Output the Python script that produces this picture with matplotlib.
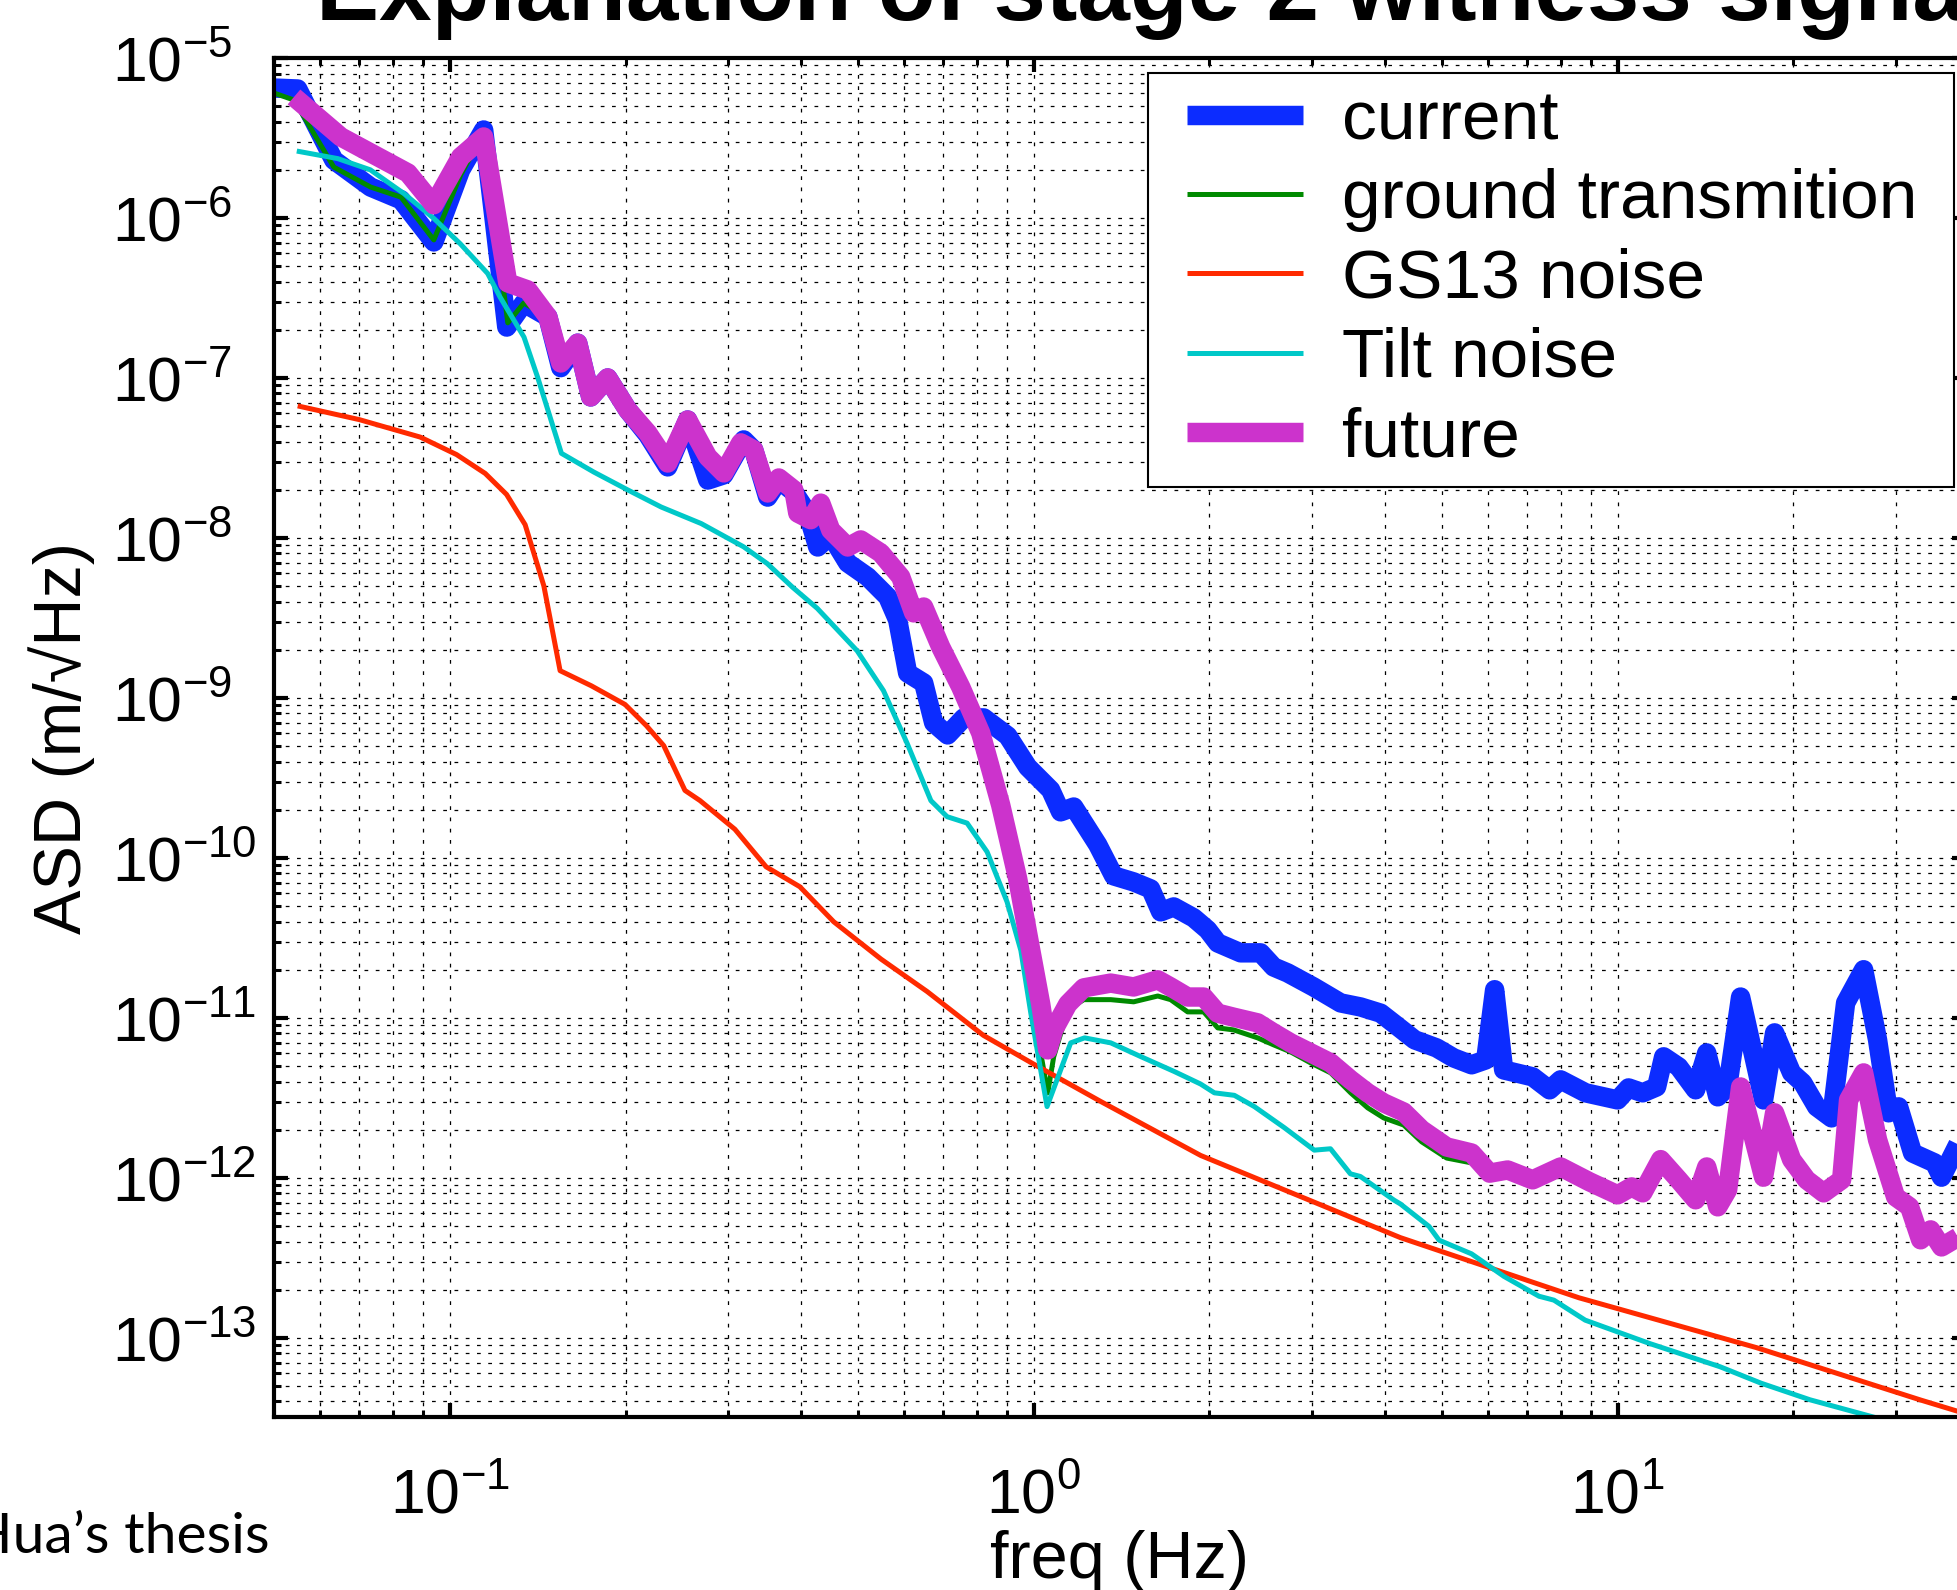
import numpy as np
import matplotlib
matplotlib.use('Agg')
import matplotlib.pyplot as plt
from matplotlib.ticker import LogLocator, NullFormatter
from matplotlib.patches import Rectangle

plt.rcParams['font.family'] = ['Liberation Sans', 'DejaVu Sans']
plt.rcParams['mathtext.fontset'] = 'custom'
plt.rcParams['mathtext.rm'] = 'Liberation Sans'
plt.rcParams['mathtext.it'] = 'Liberation Sans:italic'
plt.rcParams['mathtext.bf'] = 'Liberation Sans:bold'

# 数据 (freq in Hz, ASD in m/rtHz)
current_freq = [0.0500, 0.0549, 0.0633, 0.0732, 0.0825, 0.0939, 0.1044, 0.1143, 0.1252, 0.1339,
                0.1472, 0.1549, 0.1656, 0.1743, 0.1864, 0.2017, 0.2183, 0.2362, 0.2555, 0.2766,
                0.2946, 0.3187, 0.3315, 0.3503, 0.3660, 0.3882, 0.4102, 0.4267, 0.4492, 0.4803,
                0.5196, 0.5623, 0.5849, 0.6083, 0.6480, 0.6741, 0.7122, 0.7589, 0.8211, 0.9026,
                0.9766, 1.069, 1.112, 1.171, 1.287, 1.371, 1.483, 1.586, 1.650, 1.737,
                1.879, 1.986, 2.066, 2.262, 2.447, 2.576, 2.722, 3.016, 3.355, 3.630,
                3.928, 4.168, 4.492, 4.898, 5.239, 5.623, 5.943, 6.157, 6.380, 7.153,
                7.647, 7.986, 8.815, 10.0, 10.44, 11.04, 11.66, 11.99, 12.72, 13.60,
                14.21, 14.84, 15.43, 16.24, 17.78, 18.57, 19.86, 20.74, 21.92, 23.25,
                24.57, 26.38, 27.87, 29.11, 30.28, 32.0, 34.90, 35.87, 38.37, 41.02]
current_asd = [6.49e-6, 6.40e-6, 2.30e-6, 1.56e-6, 1.30e-6, 7.08e-7, 2.00e-6, 3.55e-6, 2.08e-7, 2.94e-7,
               2.41e-7, 1.16e-7, 1.65e-7, 7.61e-8, 1.00e-7, 6.31e-8, 4.40e-8, 2.78e-8, 5.46e-8, 2.30e-8,
               2.48e-8, 4.10e-8, 3.55e-8, 1.80e-8, 2.30e-8, 1.94e-8, 1.43e-8, 8.78e-9, 1.04e-8, 6.98e-9,
               5.71e-9, 4.28e-9, 3.07e-9, 1.43e-9, 1.24e-9, 6.98e-10, 5.87e-10, 7.50e-10, 7.50e-10, 5.79e-10,
               3.70e-10, 2.66e-10, 1.94e-10, 2.08e-10, 1.21e-10, 7.72e-11, 7.08e-11, 6.40e-11, 4.60e-11, 4.94e-11,
               4.22e-11, 3.55e-11, 2.94e-11, 2.55e-11, 2.55e-11, 2.08e-11, 1.91e-11, 1.56e-11, 1.24e-11, 1.17e-11,
               1.07e-11, 9.04e-12, 7.29e-12, 6.49e-12, 5.62e-12, 5.09e-12, 5.46e-12, 1.50e-11, 4.73e-12, 4.28e-12,
               3.55e-12, 4.10e-12, 3.40e-12, 3.07e-12, 3.65e-12, 3.40e-12, 3.70e-12, 5.71e-12, 4.94e-12, 3.55e-12,
               6.04e-12, 3.21e-12, 3.70e-12, 1.35e-11, 3.07e-12, 8.06e-12, 4.53e-12, 3.93e-12, 2.78e-12, 2.37e-12,
               1.24e-11, 2.00e-11, 7.29e-12, 2.55e-12, 2.78e-12, 1.43e-12, 1.24e-12, 1.01e-12, 1.65e-12, 2.14e-12]

ground_freq = [0.0500, 0.0541, 0.0633, 0.0732, 0.0825, 0.0939, 0.1044, 0.1143, 0.1257, 0.1339,
               0.1472, 0.1549, 0.1656, 0.1743, 0.1864, 0.2017, 0.2183, 0.2362, 0.2555, 0.2766,
               0.2946, 0.3150, 0.3315, 0.3503, 0.3660, 0.3882, 0.3944, 0.4151, 0.4318, 0.4492,
               0.4803, 0.5055, 0.5470, 0.5919, 0.6230, 0.6480, 0.6930, 0.7499, 0.8114, 0.8779,
               0.9389, 0.9882, 1.028, 1.057, 1.082, 1.144, 1.218, 1.355, 1.483, 1.631,
               1.716, 1.835, 1.955, 2.066, 2.200, 2.418, 2.576, 2.754, 2.981, 3.226,
               3.490, 3.732, 3.975, 4.301, 4.617, 5.096, 5.623, 6.037, 6.481, 7.153,
               7.986, 8.955, 10.0, 10.57, 11.04, 11.85, 12.72, 13.60, 14.21, 14.84,
               15.43, 16.24, 17.78, 18.57, 19.86, 21.07, 22.53, 24.19, 24.86, 26.38,
               27.87, 29.92, 31.62, 33.03, 34.36, 35.87, 38.37, 41.02]
ground_asd = [6.04e-6, 5.46e-6, 2.08e-6, 1.56e-6, 1.35e-6, 7.29e-7, 1.86e-6, 3.40e-6, 2.21e-7, 2.94e-7,
              2.41e-7, 1.24e-7, 1.65e-7, 7.61e-8, 1.00e-7, 6.31e-8, 4.53e-8, 2.94e-8, 5.46e-8, 3.21e-8,
              2.55e-8, 3.93e-8, 3.55e-8, 1.91e-8, 2.37e-8, 2.00e-8, 1.43e-8, 1.30e-8, 1.65e-8, 1.12e-8,
              8.78e-9, 9.72e-9, 8.06e-9, 5.71e-9, 3.40e-9, 3.70e-9, 2.08e-9, 1.17e-9, 6.04e-10, 2.14e-10,
              7.39e-11, 2.66e-11, 6.04e-12, 3.40e-12, 5.71e-12, 1.12e-11, 1.30e-11, 1.30e-11, 1.26e-11, 1.37e-11,
              1.30e-11, 1.09e-11, 1.09e-11, 8.66e-12, 8.41e-12, 7.50e-12, 6.78e-12, 6.13e-12, 5.23e-12, 4.53e-12,
              3.40e-12, 2.74e-12, 2.37e-12, 2.14e-12, 1.68e-12, 1.33e-12, 1.24e-12, 1.04e-12, 1.09e-12, 9.72e-13,
              1.17e-12, 9.44e-13, 7.83e-13, 8.78e-13, 8.06e-13, 1.30e-12, 9.72e-13, 7.29e-13, 1.17e-12, 6.59e-13,
              8.41e-13, 3.70e-12, 1.01e-12, 2.55e-12, 1.30e-12, 9.72e-13, 8.06e-13, 9.72e-13, 3.07e-12, 4.53e-12,
              1.73e-12, 7.61e-13, 6.59e-13, 4.10e-13, 4.73e-13, 3.70e-13, 4.28e-13, 3.81e-13]

gs13_freq = [0.0549, 0.0700, 0.0890, 0.1027, 0.1150, 0.1251, 0.1346, 0.1449, 0.1545, 0.1748,
             0.1996, 0.2171, 0.2325, 0.2528, 0.2683, 0.3078, 0.3481, 0.3977, 0.4544, 0.5477,
             0.6571, 0.8198, 1.0, 1.303, 1.932, 4.246, 8.585, 17.28, 33.07, 45.0]
gs13_asd = [6.69e-8, 5.49e-8, 4.27e-8, 3.32e-8, 2.53e-8, 1.87e-8, 1.21e-8, 5.02e-9, 1.48e-9, 1.19e-9,
            9.1e-10, 6.71e-10, 5.03e-10, 2.64e-10, 2.28e-10, 1.51e-10, 8.8e-11, 6.60e-11, 3.99e-11, 2.33e-11,
            1.46e-11, 7.78e-12, 5.14e-12, 3.00e-12, 1.38e-12, 4.23e-13, 1.78e-13, 8.69e-14, 4.08e-14, 2.9e-14]

tilt_freq = [0.0547, 0.0643, 0.0731, 0.0835, 0.0940, 0.1042, 0.1161, 0.1220, 0.1340, 0.1414,
             0.1553, 0.1765, 0.2015, 0.2302, 0.2695, 0.3186, 0.3499, 0.3861, 0.4259, 0.4985,
             0.5530, 0.6071, 0.6667, 0.7107, 0.7690, 0.8322, 0.9004, 0.9506, 0.9887, 1.054,
             1.157, 1.222, 1.355, 1.525, 1.741, 1.931, 2.039, 2.206, 2.387, 2.686,
             3.023, 3.223, 3.486, 3.626, 4.142, 4.246, 4.754, 4.945, 5.621, 6.389,
             7.333, 7.779, 8.799, 11.36, 14.97, 17.62, 21.35, 27.57, 31.81]
tilt_asd = [2.62e-6, 2.35e-6, 2.00e-6, 1.42e-6, 9.9e-7, 6.9e-7, 4.5e-7, 3.19e-7, 1.80e-7, 1.01e-7,
            3.38e-8, 2.58e-8, 2.00e-8, 1.56e-8, 1.23e-8, 8.8e-9, 6.9e-9, 4.93e-9, 3.63e-9, 1.97e-9,
            1.11e-9, 5.2e-10, 2.28e-10, 1.81e-10, 1.65e-10, 1.09e-10, 5.3e-11, 2.64e-11, 1.07e-11, 2.79e-12,
            6.98e-12, 7.50e-12, 6.98e-12, 5.73e-12, 4.62e-12, 3.86e-12, 3.40e-12, 3.28e-12, 2.79e-12, 2.06e-12,
            1.49e-12, 1.52e-12, 1.06e-12, 1.02e-12, 7.25e-13, 6.87e-13, 4.97e-13, 4.08e-13, 3.35e-13, 2.42e-13,
            1.82e-13, 1.72e-13, 1.29e-13, 9.2e-14, 6.6e-14, 5.2e-14, 4.1e-14, 3.18e-14, 2.75e-14]

future_freq = [0.0541, 0.0651, 0.0848, 0.0939, 0.1044, 0.1143, 0.1257, 0.1360, 0.1472, 0.1549,
               0.1656, 0.1743, 0.1864, 0.2017, 0.2183, 0.2362, 0.2555, 0.2766, 0.2946, 0.3150,
               0.3315, 0.3503, 0.3660, 0.3882, 0.3944, 0.4151, 0.4318, 0.4492, 0.4803, 0.5055,
               0.5470, 0.5919, 0.6230, 0.6480, 0.6930, 0.7499, 0.8114, 0.8779, 0.9389, 0.9882,
               1.028, 1.057, 1.082, 1.144, 1.218, 1.355, 1.483, 1.631, 1.716, 1.835,
               1.955, 2.066, 2.200, 2.418, 2.576, 2.754, 2.981, 3.226, 3.490, 3.732,
               3.975, 4.301, 4.617, 5.096, 5.623, 6.037, 6.481, 7.153, 7.986, 8.955,
               10.0, 10.57, 11.04, 11.85, 12.72, 13.60, 14.21, 14.84, 15.43, 16.24,
               17.78, 18.57, 19.86, 21.07, 22.53, 24.19, 24.86, 26.38, 27.87, 29.92,
               31.62, 33.03, 34.36, 35.87, 38.37, 41.02]
future_asd = [5.71e-6, 3.21e-6, 1.91e-6, 1.21e-6, 2.41e-6, 3.21e-6, 3.93e-7, 3.55e-7, 2.41e-7, 1.24e-7,
              1.65e-7, 7.61e-8, 1.00e-7, 6.31e-8, 4.53e-8, 2.94e-8, 5.46e-8, 3.21e-8, 2.55e-8, 3.93e-8,
              3.55e-8, 1.91e-8, 2.37e-8, 2.00e-8, 1.43e-8, 1.30e-8, 1.65e-8, 1.12e-8, 8.78e-9, 9.72e-9,
              8.06e-9, 5.71e-9, 3.40e-9, 3.70e-9, 2.08e-9, 1.17e-9, 6.04e-10, 2.14e-10, 7.39e-11, 2.66e-11,
              1.22e-11, 6.31e-12, 8.41e-12, 1.22e-11, 1.54e-11, 1.65e-11, 1.56e-11, 1.73e-11, 1.56e-11, 1.35e-11,
              1.35e-11, 1.07e-11, 1.01e-11, 9.31e-12, 8.06e-12, 6.98e-12, 6.04e-12, 5.23e-12, 4.10e-12, 3.40e-12,
              2.94e-12, 2.58e-12, 2.00e-12, 1.56e-12, 1.43e-12, 1.07e-12, 1.12e-12, 9.72e-13, 1.17e-12, 9.44e-13,
              7.83e-13, 8.78e-13, 8.06e-13, 1.30e-12, 9.72e-13, 7.29e-13, 1.17e-12, 6.59e-13, 8.41e-13, 3.70e-12,
              1.01e-12, 2.55e-12, 1.30e-12, 9.72e-13, 8.06e-13, 9.72e-13, 3.07e-12, 4.53e-12, 1.73e-12, 7.61e-13,
              6.59e-13, 4.10e-13, 4.73e-13, 3.70e-13, 4.28e-13, 3.81e-13]

labels = ['current', 'ground transmition', 'GS13 noise', 'Tilt noise', 'future']

W, H = 1958, 1590
fig = plt.figure(figsize=(W / 100, H / 100), dpi=100)
# axes box in pixels: left 274, right 1966 (past the edge, cropped), top 58, bottom 1417
ax = fig.add_axes([274 / W, 1 - 1417 / H, (1966 - 274) / W, (1417 - 58) / H])

# 绘制图形
kw = dict(solid_joinstyle='round', solid_capstyle='butt')
ax.loglog(current_freq, current_asd, color='#0c2cff', lw=14, label=labels[0], **kw)
ax.loglog(ground_freq, ground_asd, color='#008a00', lw=3.6, label=labels[1], **kw)
ax.loglog(gs13_freq, gs13_asd, color='#ff2a00', lw=3.6, label=labels[2], **kw)
ax.loglog(tilt_freq, tilt_asd, color='#00c8c8', lw=3.6, label=labels[3], **kw)
ax.loglog(future_freq, future_asd, color='#cc33cc', lw=14, label=labels[4], **kw)

ax.set_xlim(0.05, 39.5)
ax.set_ylim(3.2e-14, 1e-5)

for axis in (ax.xaxis, ax.yaxis):
    axis.set_major_locator(LogLocator(base=10, numticks=30))
    axis.set_minor_locator(LogLocator(base=10, subs=np.arange(2, 10), numticks=30))
    axis.set_minor_formatter(NullFormatter())

ax.tick_params(which='major', direction='in', length=10, width=3, top=True, right=True,
               labelsize=45)
ax.tick_params(axis='x', which='major', pad=36)
# y labels start at x = 112 px (MATLAB keeps the "10" left-aligned)
ax.tick_params(axis='y', which='major', pad=(274 - 112) * 0.72)
ax.tick_params(which='minor', direction='in', length=5, width=2.2, top=True, right=True)
for s in ax.spines.values():
    s.set_linewidth(3)

# 网格线 (MATLAB 风格点线)
ax.set_axisbelow(True)
ax.grid(True, which='both', color='k', linestyle=(0, (3, 6)), linewidth=0.9)

ax.set_xlabel('freq (Hz)', fontsize=48, va='top')
ax.xaxis.set_label_coords(0.5, -(1530 - 1417) / (1417 - 58))
ax.set_ylabel('ASD (m/\u221aHz)', fontsize=48)
ax.yaxis.set_label_coords(-(274 - 95) / (1966 - 274), 0.5)

# 图例
ax.add_patch(Rectangle((1148 / W, 1 - 487 / H), (1954 - 1148) / W, (487 - 73) / H,
                       transform=fig.transFigure, facecolor='white', edgecolor='black',
                       lw=1.5, zorder=4, clip_on=False))
ax.legend(loc='upper left', bbox_to_anchor=(1187 / W, 1 - 89 / H), bbox_transform=fig.transFigure,
          frameon=False, borderpad=0, borderaxespad=0, fontsize=50, handlelength=1.67,
          handletextpad=0.56, labelspacing=0.22)

fig.text(316 / W, 1 - 20 / H, 'Explanation of stage 2 witness signal', fontsize=68,
         fontweight='bold', ha='left', va='baseline')
fig.text(270 / W, 1 - 1553 / H, 'Hua\u2019s thesis', fontsize=41, family=['Lato', 'DejaVu Sans'],
         ha='right', va='baseline')

for lbl in ax.get_yticklabels():
    lbl.set_horizontalalignment('left')

fig.savefig('out.png', dpi=100)
